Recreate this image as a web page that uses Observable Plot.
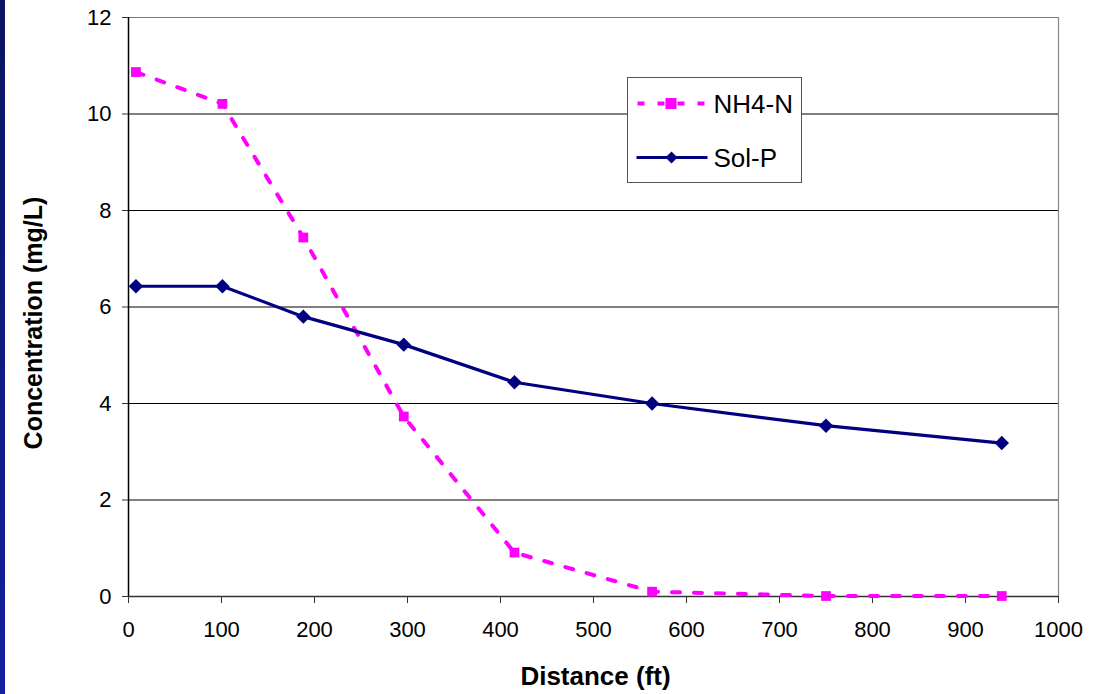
<!DOCTYPE html>
<html>
<head>
<meta charset="utf-8">
<script src="https://cdn.jsdelivr.net/npm/d3@7"></script>
<script src="https://cdn.jsdelivr.net/npm/@observablehq/plot@0.6"></script>
<style>
  html, body { margin: 0; padding: 0; background: #fff; }
  #wrap { position: relative; width: 1101px; height: 694px; overflow: hidden; }
  #strip { position: absolute; left: 0; top: 0; width: 5px; height: 694px;
           background: linear-gradient(#0b1460, #1420a0); }
  #chart { position: absolute; left: 0; top: 0; }
</style>
</head>
<body>
<div id="wrap"><div id="chart"></div><div id="strip"></div></div>
<script>
// Data
const distance = [8, 101, 188, 296, 415, 563, 750, 939];
const nh4n     = [10.87, 10.21, 7.44, 3.73, 0.91, 0.10, 0.01, 0.01];
const solP     = [6.43, 6.43, 5.80, 5.22, 4.44, 4.00, 3.54, 3.18];
const xTicks = d3.range(0, 1001, 100);
const yTicks = d3.range(0, 13, 2);
const seriesNames = ["NH4-N", "Sol-P"];
const colors = {"NH4-N": "#ff00ff", "Sol-P": "#000080"};

const nh4 = distance.map((d, i) => ({x: d, y: nh4n[i], s: "NH4-N"}));
const sol = distance.map((d, i) => ({x: d, y: solP[i], s: "Sol-P"}));

const font = "Arial, 'Liberation Sans', sans-serif";

const chart = Plot.plot({
  width: 1101,
  height: 694,
  marginLeft: 128,
  marginRight: 43,
  marginTop: 17,
  marginBottom: 98,
  style: {fontFamily: font, fontSize: "22px", color: "#000", background: "transparent"},
  x: {domain: [0, 1000], label: null},
  y: {domain: [0, 12], label: null},
  marks: [
    Plot.gridY(yTicks.filter(d => d > 0 && d < 12), {stroke: "#000", strokeOpacity: 1, strokeWidth: 1}),
    Plot.ruleX([1000], {stroke: "#888", strokeWidth: 1.2}),
    Plot.ruleY([12], {stroke: "#777", strokeWidth: 1.2}),
    Plot.ruleX([0], {stroke: "#000", strokeWidth: 1.5}),
    Plot.ruleY([0], {stroke: "#333", strokeWidth: 1.5}),
    Plot.axisX({ticks: xTicks, tickFormat: d3.format("d"), tickSize: 7, tickPadding: 18,
      fontSize: 22, stroke: "#333"}),
    Plot.axisY({ticks: yTicks, tickFormat: d3.format("d"), tickSize: 6, tickPadding: 11,
      fontSize: 22, stroke: "#333"}),
    Plot.line(nh4, {x: "x", y: "y", stroke: colors["NH4-N"], strokeWidth: 4,
      strokeDasharray: "8,14"}),
    Plot.dot(nh4, {x: "x", y: "y", symbol: "square", r: 5.5, fill: colors["NH4-N"], stroke: "none"}),
    Plot.line(sol, {x: "x", y: "y", stroke: colors["Sol-P"], strokeWidth: 3.2}),
    Plot.dot(sol, {x: "x", y: "y", symbol: "diamond2", r: 6.5, fill: colors["Sol-P"], stroke: "none"}),
    Plot.text(["Concentration (mg/L)"], {frameAnchor: "left", textAnchor: "middle", dx: -95, dy: 16, rotate: -90,
      fontSize: 25, fontWeight: "bold", fill: "#000"}),
    Plot.text(["Distance (ft)"], {frameAnchor: "bottom", dx: 2, dy: 88,
      fontSize: 26, fontWeight: "bold", fill: "#000"})
  ]
});
document.getElementById("chart").appendChild(chart);

// Legend box
const svg = d3.select(chart);
const lg = svg.append("g").attr("transform", "translate(627.5,77.5)");
lg.append("rect").attr("width", 174).attr("height", 105)
  .attr("fill", "#fff").attr("stroke", "#555").attr("stroke-width", 1);
const rows = [
  {name: seriesNames[0], y: 26},
  {name: seriesNames[1], y: 80}
];
rows.forEach(r => {
  const c = colors[r.name];
  if (r.name === "NH4-N") {
    lg.append("line").attr("x1", 10).attr("x2", 79).attr("y1", r.y).attr("y2", r.y)
      .attr("stroke", c).attr("stroke-width", 4).attr("stroke-dasharray", "7,13");
    lg.append("rect").attr("x", 38).attr("y", r.y - 5.5).attr("width", 11).attr("height", 11).attr("fill", c);
  } else {
    lg.append("line").attr("x1", 9).attr("x2", 80).attr("y1", r.y).attr("y2", r.y)
      .attr("stroke", c).attr("stroke-width", 3.2);
    lg.append("path").attr("d", `M44,${r.y-6}L50,${r.y}L44,${r.y+6}L38,${r.y}Z`).attr("fill", c);
  }
  lg.append("text").attr("x", 86).attr("y", r.y).attr("dy", "0.35em")
    .attr("text-anchor", "start")
    .attr("font-family", font).attr("font-size", 26).attr("fill", "#000").text(r.name);
});
</script>
</body>
</html>
